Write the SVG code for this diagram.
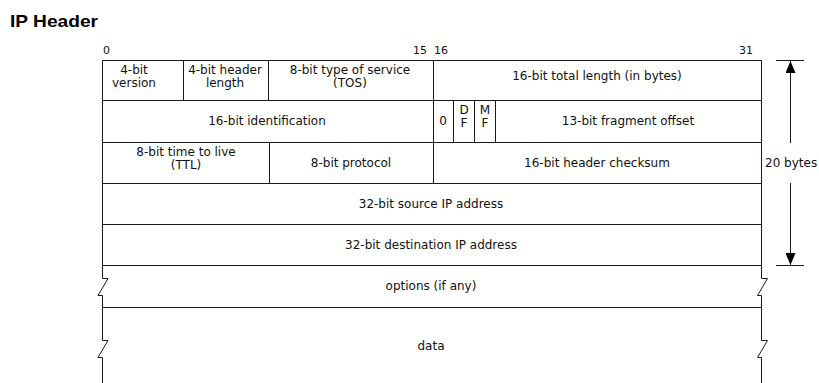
<svg xmlns="http://www.w3.org/2000/svg" width="819" height="383" viewBox="0 0 819 383">
<style>
  .ln{stroke:#1a1a1a;stroke-width:1;fill:none}
  .t{font-family:"DejaVu Sans","Liberation Sans",sans-serif;font-size:12px;fill:#111;text-anchor:middle}
  .n{font-family:"DejaVu Sans","Liberation Sans",sans-serif;font-size:11px;fill:#111}
  .title{font-family:"Liberation Sans",Arial,sans-serif;font-size:17px;font-weight:bold;fill:#000}
</style>
<defs>
  <marker id="ah" viewBox="0 0 12 10" refX="12" refY="5" markerWidth="12" markerHeight="10" markerUnits="userSpaceOnUse" orient="auto">
    <path d="M0,0 L12,5 L0,10 Z" fill="#000"/>
  </marker>
</defs>
<rect width="819" height="383" fill="#fff"/>
<text class="title" x="10" y="27" textLength="88" lengthAdjust="spacingAndGlyphs">IP Header</text>

<g id="bit-labels">
  <text class="n" x="103" y="54">0</text>
  <text class="n" x="427" y="54" text-anchor="end">15</text>
  <text class="n" x="434" y="54">16</text>
  <text class="n" x="753" y="54" text-anchor="end">31</text>
</g>

<g id="frame">
  <path class="ln" d="M102.5,60.5 H761.5 M102.5,100.5 H761.5 M102.5,142.5 H761.5 M102.5,183.5 H761.5 M102.5,224.5 H761.5 M102.5,265.5 H761.5 M102.5,307.5 H761.5"/>
  <path class="ln" d="M102.5,60.5 V278.5 H108 L98,295.5 H102.5 V340.5 H108 L98,357.5 H102.5 V383"/>
  <path class="ln" d="M761.5,60.5 V278.5 H767.5 L757.5,295.5 H761.5 V340.5 H767.5 L757.5,357.5 H761.5 V383"/>
</g>

<g id="version"><path class="ln" d="M183.5,60.5 V100.5"/><text class="t" x="134" y="74">4-bit</text><text class="t" x="134" y="87">version</text></g>
<g id="ihl"><path class="ln" d="M268.5,60.5 V100.5"/><text class="t" x="225" y="74">4-bit header</text><text class="t" x="225" y="87">length</text></g>
<g id="tos"><path class="ln" d="M433.5,60.5 V183.5"/><text class="t" x="350" y="74">8-bit type of service</text><text class="t" x="350" y="87">(TOS)</text></g>
<g id="total-length"><text class="t" x="597" y="80">16-bit total length (in bytes)</text></g>

<g id="identification"><text class="t" x="267" y="125">16-bit identification</text></g>
<g id="zero-flag"><path class="ln" d="M453.5,100.5 V142.5"/><text class="t" x="443" y="125">0</text></g>
<g id="df-flag"><path class="ln" d="M474.5,100.5 V142.5"/><text class="t" x="464" y="114">D</text><text class="t" x="464" y="127">F</text></g>
<g id="mf-flag"><path class="ln" d="M495.5,100.5 V142.5"/><text class="t" x="485" y="114">M</text><text class="t" x="485" y="127">F</text></g>
<g id="fragment-offset"><text class="t" x="628" y="125">13-bit fragment offset</text></g>

<g id="ttl"><path class="ln" d="M269.5,142.5 V183.5"/><text class="t" x="186" y="156">8-bit time to live</text><text class="t" x="186" y="169">(TTL)</text></g>
<g id="protocol"><text class="t" x="351" y="167">8-bit protocol</text></g>
<g id="checksum"><text class="t" x="597" y="167">16-bit header checksum</text></g>

<g id="source"><text class="t" x="431" y="208">32-bit source IP address</text></g>
<g id="destination"><text class="t" x="431" y="249">32-bit destination IP address</text></g>
<g id="options"><text class="t" x="431" y="290">options (if any)</text></g>
<g id="data"><text class="t" x="431" y="350">data</text></g>

<g id="connectors">
  <path class="ln" d="M776,60.5 H804 M776,265.5 H804"/>
  <path class="ln" d="M790.5,143 V61" marker-end="url(#ah)"/>
  <path class="ln" d="M790.5,183 V265" marker-end="url(#ah)"/>
  <text class="n" x="765" y="167" style="font-size:12px">20 bytes</text>
</g>
</svg>
